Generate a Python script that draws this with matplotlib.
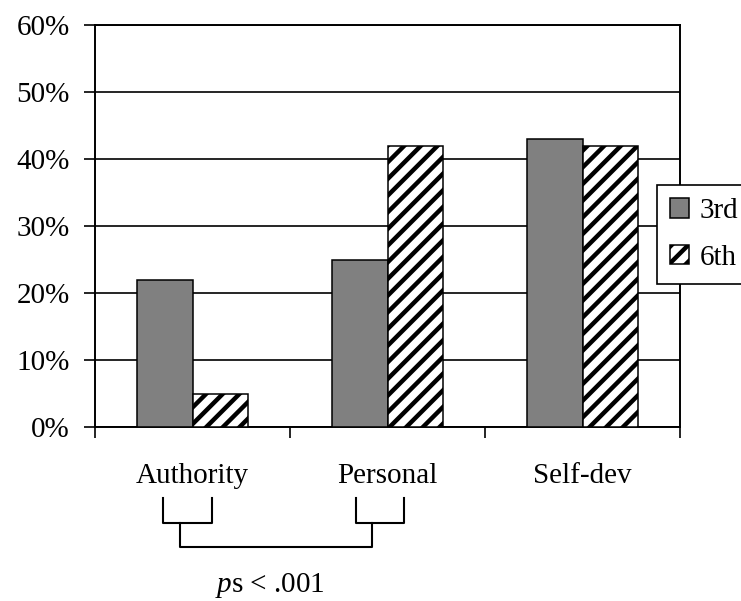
import numpy as np
import matplotlib
matplotlib.use('Agg')
import matplotlib.pyplot as plt

plt.rcParams['font.family'] = ['Liberation Serif', 'DejaVu Serif']
plt.rcParams['mathtext.fontset'] = 'custom'
plt.rcParams['mathtext.rm'] = 'Liberation Serif'
plt.rcParams['mathtext.it'] = 'Liberation Serif:italic'
plt.rcParams['hatch.linewidth'] = 3.2
plt.rcParams['hatch.color'] = 'black'

categories = ['Authority', 'Personal', 'Self-dev']
grade3 = [22, 25, 43]
grade6 = [5, 42, 42]
series_names = ['3rd', '6th']
yticks = [0, 10, 20, 30, 40, 50, 60]

# bracket annotation under the axis (data x, data y below 0)
left_br = [-0.151, 0.100]
right_br = [0.838, 1.085]
br_top, br_mid, br_low = -10.6, -14.3, -17.9
join_x = [-0.064, 0.921]

fs = 21

fig = plt.figure(figsize=(7.41, 6.01), dpi=100)
ax = fig.add_axes([95/741, 1 - 427/601, (680 - 95)/741, (427 - 25)/601])

x = np.arange(len(categories))
w = 1 / 3.5
ax.bar(x - w/2, grade3, w, color='#808080', edgecolor='black', linewidth=1.1,
       label=series_names[0], zorder=3)
ax.bar(x + w/2, grade6, w, color='white', edgecolor='black', linewidth=1.1,
       hatch='//', label=series_names[1], zorder=3)

ax.set_xlim(-0.5, 2.5)
ax.set_ylim(0, 60)
ax.set_yticks(yticks)
ax.set_yticklabels([f'{t}%' for t in yticks], fontsize=fs)
ax.yaxis.grid(True, color='black', linewidth=1.2, zorder=0)
ax.set_axisbelow(True)

ax.set_xticks([-0.5, 0.5, 1.5, 2.5])
ax.set_xticklabels([])
ax.set_xticks(x, minor=True)
ax.set_xticklabels(categories, minor=True, fontsize=fs)
ax.tick_params(axis='x', which='minor', length=0, pad=26)
ax.tick_params(axis='x', which='major', length=8, width=1.2, direction='out')
ax.tick_params(axis='y', length=8, width=1.2, direction='out', pad=10)

for s in ['left', 'bottom', 'right', 'top']:
    ax.spines[s].set_linewidth(1.4)

kw = dict(color='black', linewidth=1.5, clip_on=False)
ax.plot([left_br[0], left_br[0], left_br[1], left_br[1]],
        [br_top, br_mid, br_mid, br_top], **kw)
ax.plot([right_br[0], right_br[0], right_br[1], right_br[1]],
        [br_top, br_mid, br_mid, br_top], **kw)
ax.plot([join_x[0], join_x[0], join_x[1], join_x[1]],
        [br_mid, br_low, br_low, br_mid], **kw)
ax.text(0.397, -23.6, r'$\mathit{p}$s < .001', fontsize=fs,
        ha='center', va='center', clip_on=False)

leg = ax.legend(loc='upper left', bbox_to_anchor=(657/741, 1 - 185/601),
                bbox_transform=fig.transFigure, fontsize=fs, frameon=True,
                fancybox=False, edgecolor='black', framealpha=1,
                handlelength=0.65, handleheight=0.65, handletextpad=0.35,
                borderpad=0.45, labelspacing=0.7, borderaxespad=0)
leg.get_frame().set_linewidth(1.2)

fig.savefig('out.png', dpi=100)
